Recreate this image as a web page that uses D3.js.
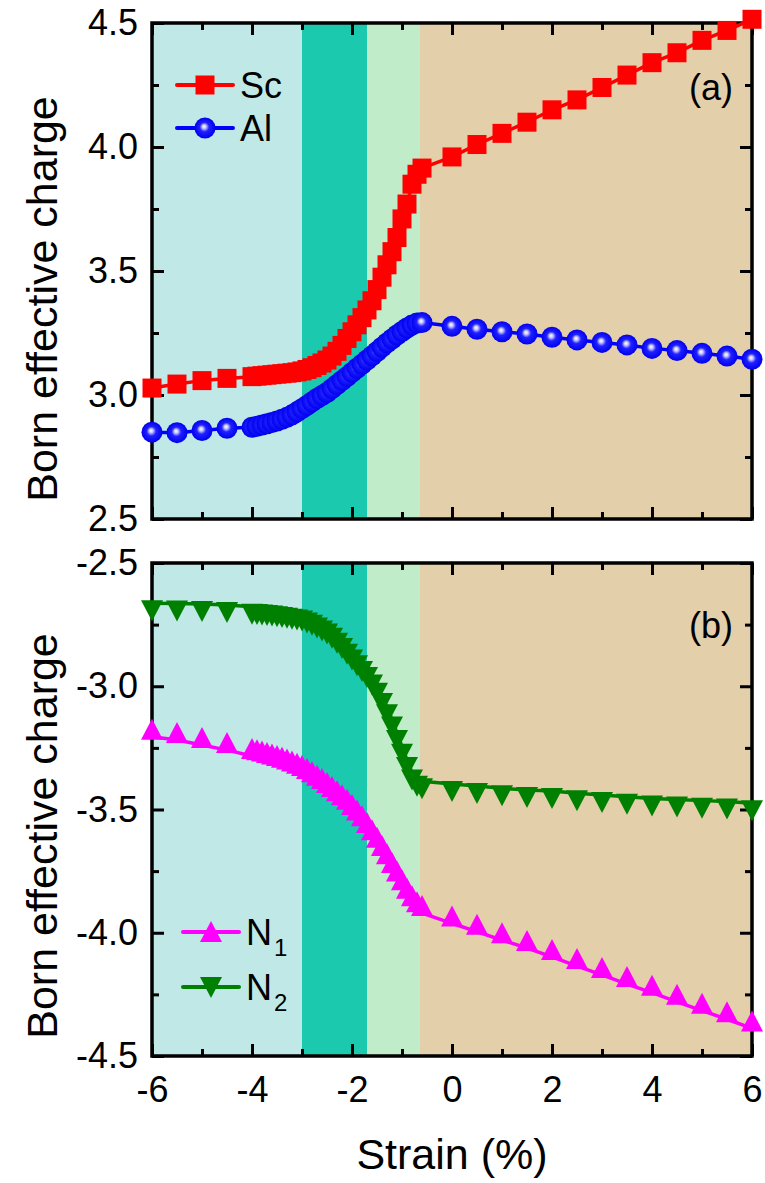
<!DOCTYPE html>
<html><head><meta charset="utf-8">
<script src="https://cdn.jsdelivr.net/npm/d3@7"></script>
<style>
body{margin:0;background:#fff}
svg{display:block}
text{font-family:"Liberation Sans",Arial,sans-serif;fill:#000}
</style>
</head><body>
<svg id="chart" width="765" height="1183"></svg>
<script>
// ---- data ----
const strain = [-6,-5.5,-5,-4.5,
  -4,-3.9,-3.8,-3.7,-3.6,-3.5,-3.4,-3.3,-3.2,-3.1,-3,-2.9,-2.8,-2.7,-2.6,-2.5,-2.4,-2.3,-2.2,-2.1,-2,-1.9,-1.8,-1.7,-1.6,-1.5,-1.4,-1.3,-1.2,-1.1,-1,-0.9,-0.8,-0.7,-0.6,
  0,0.5,1,1.5,2,2.5,3,3.5,4,4.5,5,5.5,6];
const sc = [3.028,3.044,3.058,3.067,
  3.074,3.076,3.078,3.080,3.082,3.084,3.086,3.088,3.090,3.093,3.097,3.103,3.110,3.119,3.129,3.141,3.157,3.176,3.200,3.228,3.255,3.283,3.312,3.343,3.380,3.425,3.475,3.525,3.578,3.635,3.710,3.770,3.850,3.890,3.915,
  3.960,4.010,4.055,4.100,4.150,4.190,4.240,4.290,4.340,4.380,4.430,4.470,4.515];
const al = [2.850,2.848,2.857,2.866,
  2.870,2.874,2.879,2.884,2.889,2.895,2.902,2.910,2.920,2.932,2.945,2.958,2.972,2.986,2.998,3.010,3.026,3.042,3.058,3.074,3.091,3.108,3.124,3.141,3.158,3.175,3.193,3.210,3.226,3.242,3.256,3.270,3.282,3.290,3.292,
  3.277,3.265,3.255,3.246,3.233,3.222,3.212,3.202,3.188,3.179,3.168,3.157,3.144];
const n1 = [-3.205,-3.218,-3.238,-3.259,
  -3.283,-3.288,-3.293,-3.299,-3.305,-3.311,-3.318,-3.326,-3.334,-3.343,-3.352,-3.364,-3.377,-3.391,-3.405,-3.421,-3.437,-3.454,-3.471,-3.489,-3.510,-3.532,-3.556,-3.583,-3.613,-3.643,-3.676,-3.710,-3.745,-3.780,-3.815,-3.850,-3.880,-3.905,-3.920,
  -3.962,-3.996,-4.030,-4.062,-4.098,-4.135,-4.171,-4.208,-4.243,-4.280,-4.316,-4.351,-4.388];
const n2 = [-2.663,-2.664,-2.666,-2.670,
  -2.677,-2.679,-2.681,-2.683,-2.685,-2.688,-2.691,-2.694,-2.698,-2.701,-2.705,-2.713,-2.722,-2.733,-2.745,-2.758,-2.775,-2.795,-2.816,-2.840,-2.863,-2.886,-2.910,-2.934,-2.965,-2.998,-3.040,-3.085,-3.135,-3.190,-3.245,-3.299,-3.350,-3.375,-3.385,
  -3.397,-3.405,-3.414,-3.421,-3.425,-3.434,-3.441,-3.448,-3.455,-3.459,-3.464,-3.468,-3.475];

const regionEdges = [-6, -3, -1.7, -0.64, 6];
const regionColors = ["#C0E8E6", "#1BC9AF", "#C0ECCA", "#E4CFAB"];

const xMajor = [-6,-4,-2,0,2,4,6];
const xMinor = [-5,-3,-1,1,3,5];
const yTopMajor = [2.5,3.0,3.5,4.0,4.5];
const yTopMinor = [2.75,3.25,3.75,4.25];
const yBotMajor = [-4.5,-4.0,-3.5,-3.0,-2.5];
const yBotMinor = [-4.25,-3.75,-3.25,-2.75];

// ---- layout ----
const svg = d3.select("#chart");
const L = 152, R = 752;
const x = d3.scaleLinear([-6, 6], [L, R]);
const yTop = d3.scaleLinear([2.5, 4.5], [519, 23]);
const yBot = d3.scaleLinear([-4.5, -2.5], [1056, 563]);

const fmtY = d => d3.format(".1f")(d).replace("\u2212", "-");
const fmtX = d => d3.format("d")(d).replace("\u2212", "-");

const defs = svg.append("defs");
const grad = defs.append("radialGradient").attr("id","ball")
  .attr("cx","0.5").attr("cy","0.5").attr("r","0.5").attr("fx","0.45").attr("fy","0.42");
grad.append("stop").attr("offset","0").attr("stop-color","#ffffff");
grad.append("stop").attr("offset","0.18").attr("stop-color","#c8c8ff");
grad.append("stop").attr("offset","0.45").attr("stop-color","#2020ff");
grad.append("stop").attr("offset","1").attr("stop-color","#0000ee");

function styleAxis(g){
  g.select(".domain").remove();
  g.selectAll(".tick line").attr("stroke","#000").attr("stroke-width",3);
  g.selectAll(".tick text").attr("font-size",36).attr("font-family","'Liberation Sans', Arial, sans-serif").attr("fill","#000");
}

function panel(y, yMajor, yMinor, showX){
  const [y0, y1] = y.range(); // bottom, top
  const g = svg.append("g");
  for (let i = 0; i < regionColors.length; i++){
    g.append("rect")
      .attr("x", x(regionEdges[i])).attr("y", y1)
      .attr("width", x(regionEdges[i+1]) - x(regionEdges[i]))
      .attr("height", y0 - y1)
      .attr("fill", regionColors[i]);
  }
  g.append("g").attr("transform",`translate(${L},0)`)
    .call(d3.axisLeft(y).tickValues(yMajor).tickSize(-12).tickPadding(14).tickFormat(fmtY)).call(styleAxis);
  g.append("g").attr("transform",`translate(${L},0)`)
    .call(d3.axisLeft(y).tickValues(yMinor).tickSize(-7).tickFormat("")).call(styleAxis);
  g.append("g").attr("transform",`translate(${R},0)`)
    .call(d3.axisRight(y).tickValues(yMajor).tickSize(-12).tickFormat("")).call(styleAxis);
  g.append("g").attr("transform",`translate(${R},0)`)
    .call(d3.axisRight(y).tickValues(yMinor).tickSize(-7).tickFormat("")).call(styleAxis);
  g.append("g").attr("transform",`translate(0,${y1})`)
    .call(d3.axisTop(x).tickValues(xMajor).tickSize(-12).tickFormat("")).call(styleAxis);
  g.append("g").attr("transform",`translate(0,${y1})`)
    .call(d3.axisTop(x).tickValues(xMinor).tickSize(-7).tickFormat("")).call(styleAxis);
  g.append("g").attr("transform",`translate(0,${y0})`)
    .call(d3.axisBottom(x).tickValues(xMajor).tickSize(-12).tickPadding(20).tickFormat(showX ? fmtX : "")).call(styleAxis);
  g.append("g").attr("transform",`translate(0,${y0})`)
    .call(d3.axisBottom(x).tickValues(xMinor).tickSize(-7).tickFormat("")).call(styleAxis);
  g.append("rect").attr("x", L).attr("y", y1).attr("width", R - L).attr("height", y0 - y1)
    .attr("fill","none").attr("stroke","#000").attr("stroke-width",3.5);
  return g;
}

function series(y, vals, color, marker){
  const pts = strain.map((s,i)=>[x(s), y(vals[i])]);
  const g = svg.append("g");
  g.append("path").attr("d", d3.line()(pts)).attr("fill","none")
    .attr("stroke", color).attr("stroke-width", 3.5).attr("stroke-linejoin","round");
  pts.forEach(p => marker(g, p[0], p[1], false));
}

const square = (g, cx, cy) => g.append("rect").attr("x", cx-9.5).attr("y", cy-9.5)
  .attr("width",19).attr("height",19).attr("fill","#ff0000");
const ball = (g, cx, cy) => g.append("circle").attr("cx",cx).attr("cy",cy).attr("r",10.5)
  .attr("fill","url(#ball)");
const triUp = (g, cx, cy, legend) => {
  const b = legend ? cy + 10 : cy + 3, h = 21, w = 11;
  g.append("path").attr("d",`M${cx-w},${b}L${cx+w},${b}L${cx},${b-h}Z`).attr("fill","#ff00ff");
};
const triDown = (g, cx, cy, legend) => {
  const t = legend ? cy - 10 : cy - 3, h = 21, w = 11;
  g.append("path").attr("d",`M${cx-w},${t}L${cx+w},${t}L${cx},${t+h}Z`).attr("fill","#008000");
};

panel(yTop, yTopMajor, yTopMinor, false);
panel(yBot, yBotMajor, yBotMinor, true);

series(yTop, sc, "#ff0000", square);
series(yTop, al, "#0000ff", ball);
series(yBot, n1, "#ff00ff", triUp);
series(yBot, n2, "#008000", triDown);

// ---- legends ----
function legendItem(lx, ly, color, marker, label, sub){
  const g = svg.append("g");
  g.append("line").attr("x1", lx).attr("x2", lx+56).attr("y1", ly).attr("y2", ly)
    .attr("stroke", color).attr("stroke-width", 4).attr("stroke-linecap","round");
  marker(g, lx+28, ly, true);
  const t = g.append("text").attr("x", lx+63).attr("y", ly+12.5).attr("font-size",36).text(label);
  if (sub) t.append("tspan").attr("font-size",24).attr("dy",11).attr("dx",2).text(sub);
}
legendItem(177, 85, "#ff0000", square, "Sc");
legendItem(177, 128, "#0000ff", ball, "Al");
legendItem(183, 932, "#ff00ff", triUp, "N", "1");
legendItem(183, 987, "#008000", triDown, "N", "2");

// ---- panel labels ----
svg.append("text").attr("x", 733).attr("y", 100).attr("text-anchor","end").attr("font-size",36).text("(a)");
svg.append("text").attr("x", 733).attr("y", 638).attr("text-anchor","end").attr("font-size",36).text("(b)");

// ---- axis titles ----
svg.append("text").attr("transform","translate(57,299) rotate(-90)").attr("text-anchor","middle")
  .attr("font-size",43).text("Born effective charge");
svg.append("text").attr("transform","translate(57,836) rotate(-90)").attr("text-anchor","middle")
  .attr("font-size",43).text("Born effective charge");
svg.append("text").attr("x", 452).attr("y", 1169).attr("text-anchor","middle")
  .attr("font-size",43).text("Strain (%)");
</script>
</body></html>
